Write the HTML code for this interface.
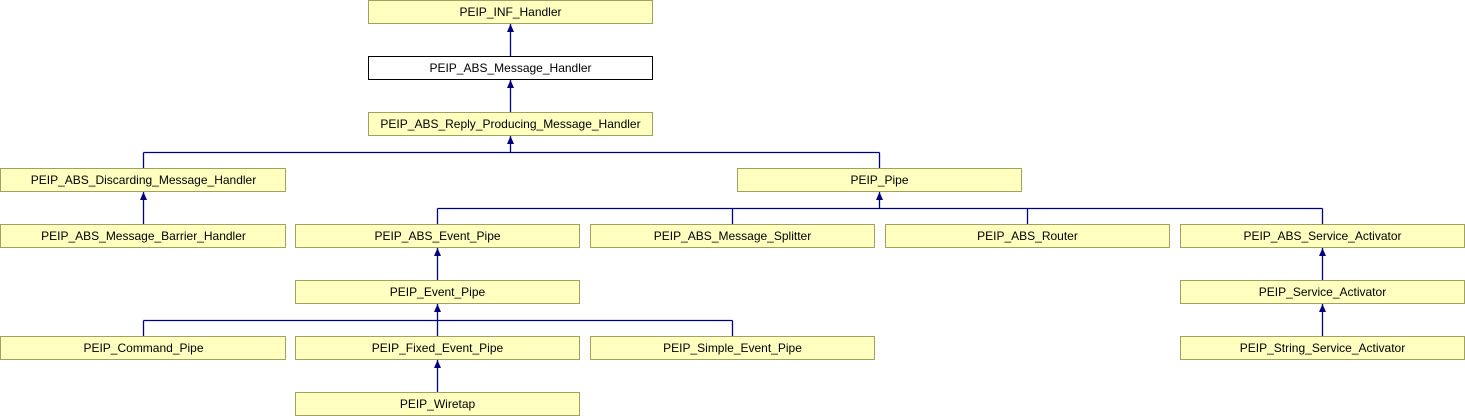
<!DOCTYPE html>
<html><head><meta charset="utf-8"><style>
html,body{margin:0;padding:0;background:#fff;}
svg{display:block;}
text{font-family:"Liberation Sans",sans-serif;font-size:12px;fill:#000;text-anchor:middle;}
.b{fill:#ffffc0;stroke:#a0a060;stroke-width:1;}
.w{fill:#fff;stroke:#000;stroke-width:1;}
.l{stroke:#000080;stroke-width:1.3;fill:none;}
.a{fill:#000080;}
</style></head><body>
<svg width="1465" height="416" viewBox="0 0 1465 416">
<!-- lines -->
<path class="l" d="M510.5 24V56M510.5 80V112M510.5 136V152.5M143.5 152.5H879.5M143.5 152.5V168M879.5 152.5V168"/>
<path class="l" d="M143.5 192V224"/>
<path class="l" d="M879.5 192V208.5M437.5 208.5H1322.5M437.5 208.5V224M732.5 208.5V224M1027.5 208.5V224M1322.5 208.5V224"/>
<path class="l" d="M437.5 248V280M1322.5 248V280M1322.5 304V336"/>
<path class="l" d="M437.5 304V320.5M143.5 320.5H732.5M143.5 320.5V336M732.5 320.5V336M437.5 320.5V336"/>
<path class="l" d="M437.5 360V392"/>
<!-- arrowheads -->
<g class="a">
<path d="M510.5 24l-3.5 8h7z"/><path d="M510.5 80l-3.5 8h7z"/><path d="M510.5 136l-3.5 8h7z"/>
<path d="M143.5 192l-3.5 8h7z"/><path d="M879.5 192l-3.5 8h7z"/>
<path d="M437.5 248l-3.5 8h7z"/><path d="M1322.5 248l-3.5 8h7z"/><path d="M1322.5 304l-3.5 8h7z"/>
<path d="M437.5 304l-3.5 8h7z"/><path d="M437.5 360l-3.5 8h7z"/>
</g>
<!-- boxes -->
<rect class="b" x="368.5" y="0.5" width="284" height="23"/><text x="510.5" y="16">PEIP_INF_Handler</text>
<rect class="w" x="368.5" y="56.5" width="284" height="23"/><text x="510.5" y="72">PEIP_ABS_Message_Handler</text>
<rect class="b" x="368.5" y="112.5" width="284" height="23"/><text x="510.5" y="128">PEIP_ABS_Reply_Producing_Message_Handler</text>
<rect class="b" x="0.5" y="168.5" width="285" height="23"/><text x="143.5" y="184">PEIP_ABS_Discarding_Message_Handler</text>
<rect class="b" x="737.5" y="168.5" width="284" height="23"/><text x="879.5" y="184">PEIP_Pipe</text>
<rect class="b" x="0.5" y="224.5" width="285" height="23"/><text x="143.5" y="240">PEIP_ABS_Message_Barrier_Handler</text>
<rect class="b" x="295.5" y="224.5" width="284" height="23"/><text x="437.5" y="240">PEIP_ABS_Event_Pipe</text>
<rect class="b" x="590.5" y="224.5" width="284" height="23"/><text x="732.5" y="240">PEIP_ABS_Message_Splitter</text>
<rect class="b" x="885.5" y="224.5" width="284" height="23"/><text x="1027.5" y="240">PEIP_ABS_Router</text>
<rect class="b" x="1180.5" y="224.5" width="284" height="23"/><text x="1322.5" y="240">PEIP_ABS_Service_Activator</text>
<rect class="b" x="295.5" y="280.5" width="284" height="23"/><text x="437.5" y="296">PEIP_Event_Pipe</text>
<rect class="b" x="1180.5" y="280.5" width="284" height="23"/><text x="1322.5" y="296">PEIP_Service_Activator</text>
<rect class="b" x="0.5" y="336.5" width="285" height="23"/><text x="143.5" y="352">PEIP_Command_Pipe</text>
<rect class="b" x="295.5" y="336.5" width="284" height="23"/><text x="437.5" y="352">PEIP_Fixed_Event_Pipe</text>
<rect class="b" x="590.5" y="336.5" width="284" height="23"/><text x="732.5" y="352">PEIP_Simple_Event_Pipe</text>
<rect class="b" x="1180.5" y="336.5" width="284" height="23"/><text x="1322.5" y="352">PEIP_String_Service_Activator</text>
<rect class="b" x="295.5" y="392.5" width="284" height="23"/><text x="437.5" y="408">PEIP_Wiretap</text>
</svg>
</body></html>
